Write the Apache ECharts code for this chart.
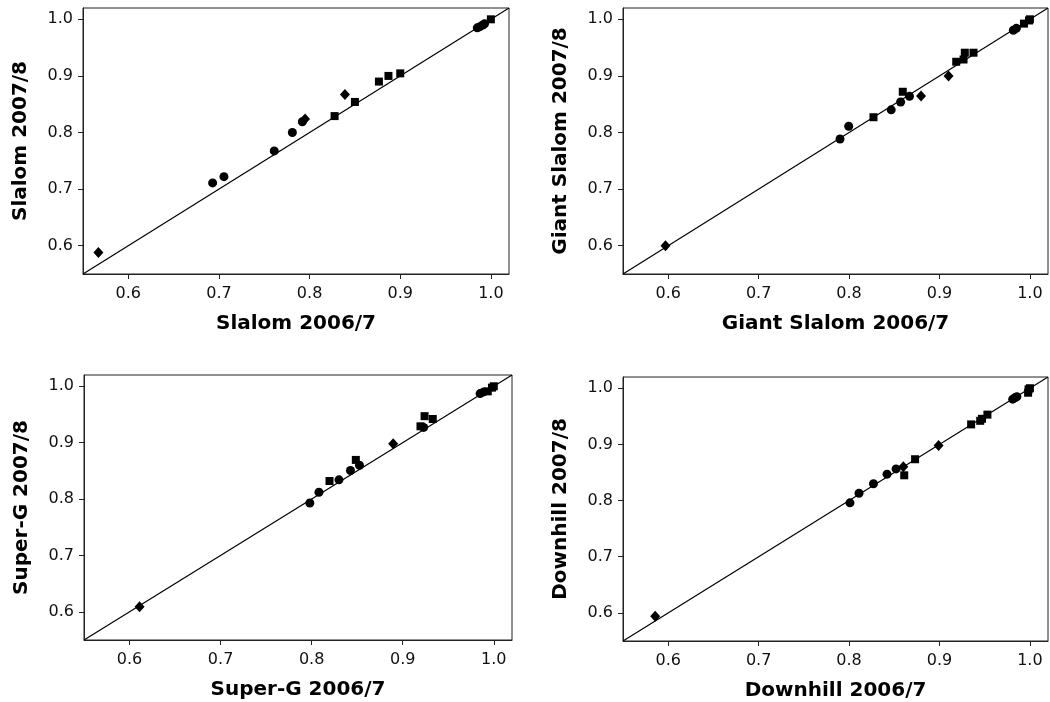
<!DOCTYPE html>
<html>
<head>
<meta charset="utf-8">
<script src="https://cdn.jsdelivr.net/npm/echarts@6/dist/echarts.min.js"></script>
<style>html,body{margin:0;padding:0;background:#fff}#c{width:1050px;height:702px}</style>
</head>
<body>
<div id="c"></div>
<script>
// Panel titles
const panelNames = ['Slalom', 'Giant Slalom', 'Super-G', 'Downhill'];
const xSuffix = ' 2006/7';
const ySuffix = ' 2007/8';
const tickValues = [0.6, 0.7, 0.8, 0.9, 1.0];
const axisRange = [0.55, 1.02];
const diagLine = [[0.55, 0.55], [1.02, 1.02]];

// Slalom
const slalomCircles = [[0.693,0.711],[0.7055,0.722],[0.761,0.7675],[0.781,0.800],[0.792,0.819],[0.985,0.985],[0.988,0.987],[0.991,0.990],[0.993,0.992]];
const slalomSquares = [[0.8276,0.829],[0.850,0.854],[0.8765,0.890],[0.887,0.900],[0.900,0.9045],[1.0,1.0]];
const slalomDiamonds = [[0.567,0.588],[0.795,0.824],[0.839,0.867]];

// Giant Slalom
const gsCircles = [[0.790,0.7885],[0.7996,0.811],[0.8466,0.840],[0.857,0.854],[0.8668,0.864],[0.9817,0.9807],[0.985,0.984]];
const gsSquares = [[0.827,0.827],[0.8594,0.872],[0.9185,0.925],[0.9266,0.929],[0.928,0.941],[0.9376,0.941],[0.9934,0.9924],[0.999,0.998],[1.0,1.0]];
const gsDiamonds = [[0.597,0.600],[0.8796,0.8647],[0.910,0.900]];

// Super-G
const sgCircles = [[0.798,0.793],[0.808,0.812],[0.830,0.834],[0.8426,0.8506],[0.8525,0.860],[0.923,0.927],[0.985,0.987],[0.989,0.990]];
const sgSquares = [[0.8196,0.832],[0.8485,0.8694],[0.9195,0.929],[0.924,0.947],[0.933,0.942],[0.9934,0.991],[0.998,0.9976],[1.0,1.0]];
const sgDiamonds = [[0.611,0.609],[0.8895,0.898]];

// Downhill
const dhCircles = [[0.801,0.796],[0.811,0.813],[0.827,0.830],[0.842,0.847],[0.852,0.8564],[0.981,0.9805],[0.984,0.9835],[0.9856,0.985]];
const dhSquares = [[0.861,0.845],[0.873,0.8736],[0.935,0.9356],[0.945,0.942],[0.947,0.9456],[0.953,0.953],[0.998,0.992],[0.9985,0.998],[1.0,1.0]];
const dhDiamonds = [[0.5856,0.594],[0.860,0.860],[0.899,0.898]];

const panelData = [
  [slalomCircles, slalomSquares, slalomDiamonds],
  [gsCircles, gsSquares, gsDiamonds],
  [sgCircles, sgSquares, sgDiamonds],
  [dhCircles, dhSquares, dhDiamonds]
];

const grids = [
  {left: 83, top: 8, width: 426, height: 266},
  {left: 623, top: 8, width: 425, height: 266},
  {left: 84, top: 375, width: 428, height: 265},
  {left: 623, top: 377, width: 425, height: 264}
];

const FONT = 'DejaVu Sans';
const INK = '#000';
const xAxes = [], yAxes = [], series = [];
grids.forEach((g, i) => {
  g.show = true; g.borderColor = '#222'; g.borderWidth = 1; g.containLabel = false;
  const common = {
    type: 'value', gridIndex: i, min: axisRange[0], max: axisRange[1],
    nameLocation: 'middle',
    nameTextStyle: {fontFamily: FONT, fontWeight: 'bold', fontSize: 20, color: INK},
    axisLine: {show: true, lineStyle: {color: '#222', width: 1}},
    axisTick: {show: true, inside: false, length: 5, lineStyle: {color: '#222'}, customValues: tickValues},
    axisLabel: {fontFamily: FONT, fontSize: 16, color: '#111', customValues: tickValues,
      formatter: v => Number(v).toFixed(1)},
    splitLine: {show: false}
  };
  xAxes.push(Object.assign({}, common, {name: panelNames[i] + xSuffix, nameGap: 40,
    axisLabel: Object.assign({}, common.axisLabel, {margin: 12})}));
  yAxes.push(Object.assign({}, common, {name: panelNames[i] + ySuffix, nameGap: 52, nameRotate: 90,
    axisLabel: Object.assign({}, common.axisLabel, {margin: 10})}));
  series.push({type: 'line', xAxisIndex: i, yAxisIndex: i, data: diagLine, symbol: 'none',
    lineStyle: {color: INK, width: 1.2}, silent: true, z: 1});
  const [c, s, d] = panelData[i];
  const st = {color: INK, opacity: 1};
  series.push({type: 'scatter', xAxisIndex: i, yAxisIndex: i, data: c, symbol: 'circle', symbolSize: 9, itemStyle: st, z: 3});
  series.push({type: 'scatter', xAxisIndex: i, yAxisIndex: i, data: s, symbol: 'rect', symbolSize: 8, itemStyle: st, z: 3});
  series.push({type: 'scatter', xAxisIndex: i, yAxisIndex: i, data: d, symbol: 'diamond', symbolSize: [10, 11], itemStyle: st, z: 3});
});

const chart = echarts.init(document.getElementById('c'), null, {renderer: 'canvas'});
chart.setOption({
  animation: false,
  backgroundColor: '#fff',
  grid: grids,
  xAxis: xAxes,
  yAxis: yAxes,
  series: series
});
</script>
</body>
</html>
